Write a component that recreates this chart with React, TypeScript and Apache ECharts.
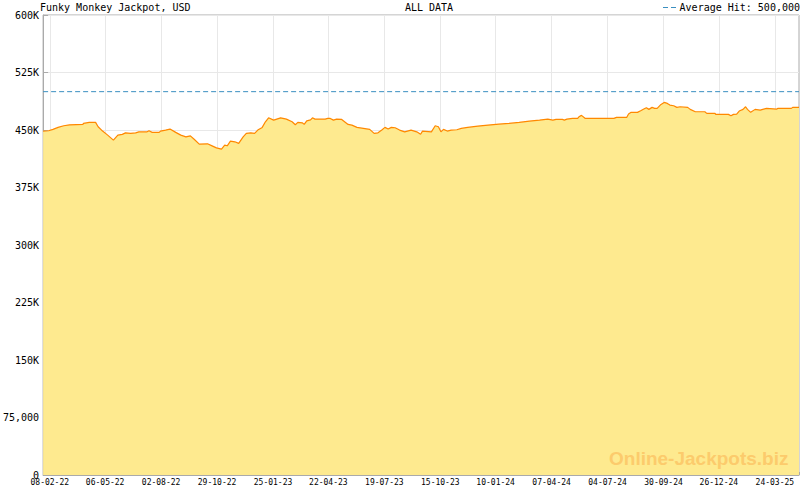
import { useEffect, useRef } from 'react'
import * as echarts from 'echarts'

// days counted from the first tick label (08-02-22)
const dayOffsets = [
  -10.5, -2, 5, 13, 22, 31, 52, 53, 62, 72, 76, 83, 91, 100, 107, 114, 119, 127, 135, 140,
  153, 156, 161, 172, 174, 182, 189, 198, 206, 214, 221, 227, 235, 248, 256, 262, 270, 275, 279, 284,
  291, 297, 304, 309, 316, 322, 327, 334, 339, 344, 352, 363, 372, 381, 386, 390, 397, 400, 404, 410,
  413, 417, 433, 437, 441, 446, 451, 459, 465, 469, 475, 483, 493, 503, 510, 516, 522, 527, 532, 537,
  543, 550, 558, 568, 577, 583, 586, 600, 606, 611, 615, 619, 625, 631, 640, 647, 657, 673, 689, 706,
  722, 738, 754, 770, 783, 791, 796, 806, 809, 813, 822, 830, 832, 836, 842, 887, 891, 907, 910, 914,
  924, 929, 934, 938, 942, 947, 951, 955, 961, 966, 971, 975, 981, 986, 991, 1003, 1007, 1015, 1030, 1033,
  1046, 1047, 1067, 1071, 1075, 1080, 1084, 1090, 1094, 1097, 1102, 1109, 1117, 1121, 1127, 1143, 1145, 1166, 1168, 1178,
]

const jackpot = [
  448500, 449000, 450800, 453400, 455500, 456800, 457300, 458600, 459900, 459900, 454200, 448600, 443300, 436800, 443300, 444300, 446300, 445600, 446300, 447600,
  447600, 449000, 446900, 446900, 448600, 449900, 451200, 446900, 443300, 441000, 442400, 438000, 431600, 432000, 429000, 426700, 425000, 430300, 429400, 435500,
  434600, 432500, 441100, 445600, 446300, 445600, 449900, 453400, 460700, 465900, 462900, 465900, 464200, 460700, 456800, 459900, 459400, 457300, 462000, 463300,
  465900, 464200, 464200, 465100, 465100, 462900, 464200, 463800, 459900, 457300, 456400, 453400, 452100, 450800, 445600, 446300, 449900, 453400, 451200, 453400,
  452900, 449900, 447600, 449900, 447600, 444400, 448600, 447600, 455500, 454200, 447600, 450800, 448600, 449900, 450300, 452100, 453400, 455100, 456400, 457700,
  458600, 459900, 461600, 462900, 464200, 462900, 463800, 463800, 462900, 464200, 465100, 465100, 467200, 469100, 465100, 465100, 466400, 466400, 470800, 473000,
  473000, 475100, 477300, 479000, 476900, 479500, 478200, 478200, 483400, 486000, 484700, 482500, 481600, 479500, 480300, 479500, 476900, 473800, 473800, 471700,
  471700, 470400, 470400, 468500, 470400, 470800, 474700, 476900, 480300, 476900, 473000, 476900, 476000, 476900, 478200, 477300, 478200, 478200, 479500, 479500,
]

const tickLabels = [
  '08-02-22', '06-05-22', '02-08-22', '29-10-22', '25-01-23', '22-04-23', '19-07-23',
  '15-10-23', '10-01-24', '07-04-24', '04-07-24', '30-09-24', '26-12-24', '24-03-25',
]

const averageHit = 500000
const xMin = -10.5
const xMax = 1178

const FONT = 'DejaVu Sans Mono'

function toDay(label: string) {
  const [d, m, y] = label.split('-').map(Number)
  return Date.UTC(2000 + y, m - 1, d) / 86400000
}

const firstDay = toDay(tickLabels[0])
const majorTicks = tickLabels.map((l) => toDay(l) - firstDay)

// 7 small ticks per labelled interval
const minorTicks: number[] = []
for (let i = 0; i < majorTicks.length; i++) {
  const a = majorTicks[i]
  const step = i < majorTicks.length - 1 ? (majorTicks[i + 1] - a) / 7 : (a - majorTicks[i - 1]) / 7
  for (let k = 1; k < 7; k++) {
    const v = a + k * step
    if (v < xMax) minorTicks.push(v)
  }
}

function App() {
  const chartRef = useRef<HTMLDivElement>(null)

  useEffect(() => {
    if (!chartRef.current) return
    document.body.style.margin = '0'
    const chart = echarts.init(chartRef.current, null, { renderer: 'svg' })

    const option: echarts.EChartsOption = {
      animation: false,
      backgroundColor: '#fff',
      textStyle: { fontFamily: FONT },
      grid: {
        left: 40,
        right: 1,
        top: 15,
        bottom: 15,
        show: true,
        backgroundColor: '#fff',
        borderColor: '#aaa',
        borderWidth: 1,
      },
      xAxis: [
        {
          type: 'value',
          min: xMin,
          max: xMax,
          axisLine: { show: true, onZero: false, lineStyle: { color: '#aaa' } },
          axisTick: {
            show: true,
            inside: true,
            length: 6,
            customValues: majorTicks,
            lineStyle: { color: '#aaa' },
          },
          axisLabel: {
            customValues: majorTicks,
            margin: 3,
            color: '#000',
            fontSize: 8,
            fontFamily: FONT,
            formatter: (v: number) => tickLabels[majorTicks.findIndex((t) => Math.abs(t - v) < 0.01)] ?? '',
          },
          splitLine: { show: true, lineStyle: { color: '#e8e8e8' } },
        },
        {
          type: 'value',
          min: xMin,
          max: xMax,
          position: 'bottom',
          axisLine: { show: false, onZero: false },
          axisTick: {
            show: true,
            inside: true,
            length: 3,
            customValues: minorTicks,
            lineStyle: { color: '#aaa' },
          },
          axisLabel: { show: false },
          splitLine: { show: false },
        },
      ],
      yAxis: {
        type: 'value',
        min: 0,
        max: 600000,
        interval: 75000,
        axisLine: { show: true, onZero: false, lineStyle: { color: '#aaa' } },
        axisTick: { show: true, inside: true, length: 5, lineStyle: { color: '#aaa' } },
        axisLabel: {
          margin: 4,
          color: '#000',
          fontSize: 10,
          fontFamily: FONT,
          formatter: (v: number) => (v === 0 ? '0' : v < 100000 ? v.toLocaleString('en-US') : `${v / 1000}K`),
        },
        splitLine: { show: true, lineStyle: { color: '#e8e8e8' } },
      },
      series: [
        {
          type: 'line',
          data: dayOffsets.map((d, i) => [d, jackpot[i]]),
          showSymbol: false,
          symbol: 'none',
          lineStyle: { color: '#ff8800', width: 1.2 },
          areaStyle: { color: '#feea8f', opacity: 1 },
          z: 2,
        },
        {
          type: 'line',
          data: [
            [xMin, averageHit],
            [xMax, averageHit],
          ],
          showSymbol: false,
          symbol: 'none',
          silent: true,
          lineStyle: { color: '#3a8fc0', type: [5, 3], width: 1 },
          z: 3,
        },
      ],
      graphic: [
        {
          type: 'text',
          left: 40,
          top: 2,
          style: { text: 'Funky Monkey Jackpot, USD', font: `10px "${FONT}"`, fill: '#000' },
        },
        {
          type: 'text',
          x: 429,
          y: 7,
          style: {
            text: 'ALL DATA',
            font: `10px "${FONT}"`,
            fill: '#000',
            textAlign: 'center',
            textVerticalAlign: 'middle',
          },
        },
        {
          type: 'line',
          shape: { x1: 663, y1: 7.5, x2: 678, y2: 7.5 },
          style: { stroke: '#3a8fc0', lineWidth: 1, lineDash: [5, 3] },
        },
        {
          type: 'text',
          x: 800,
          y: 7,
          style: {
            text: `Average Hit: ${averageHit.toLocaleString('en-US')}`,
            font: `10px "${FONT}"`,
            fill: '#000',
            textAlign: 'right',
            textVerticalAlign: 'middle',
          },
        },
        {
          type: 'text',
          x: 609,
          y: 458,
          z: 100,
          style: {
            text: 'Online-Jackpots.biz',
            font: 'bold 19px "Liberation Sans"',
            fill: '#fccb6c',
            textVerticalAlign: 'middle',
          },
        },
      ],
    }

    chart.setOption(option)
    return () => chart.dispose()
  }, [])

  return <div ref={chartRef} style={{ width: 800, height: 490 }} />
}

export default App
